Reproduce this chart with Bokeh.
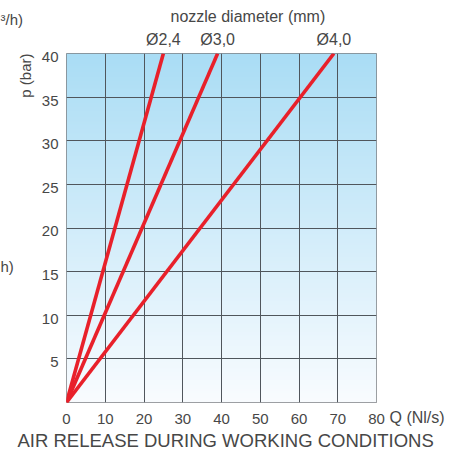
import numpy as np
from bokeh.plotting import figure
from bokeh.models import FixedTicker, LinearAxis, Range1d, Title, ColumnDataSource
from bokeh.embed import file_html
from bokeh.resources import INLINE

# ---- data ----
q_ticks = [0, 10, 20, 30, 40, 50, 60, 70, 80]
p_ticks = [5, 10, 15, 20, 25, 30, 35, 40]
p_grid = [0, 5, 10, 15, 20, 25, 30, 35, 40]
nozzle_labels = ["Ø2,4", "Ø3,0", "Ø4,0"]
q_start = [0, 0, 0]
p_start = [0, 0, 0]
q_end = [25, 39, 69]
p_end = [40, 40, 40]

X_MAX = 80
Y_MAX = 40
LABEL_SHIFT = 0.4   # y tick labels sit slightly below their grid lines

FONT = "Liberation Sans"
TXT = "#474747"
RED = "#e8202a"

p = figure(width=458, height=452, output_backend="svg", toolbar_location=None,
           x_range=Range1d(0, X_MAX), y_range=Range1d(0, Y_MAX),
           min_border_left=66, min_border_right=82, min_border_top=53,
           min_border_bottom=49)
p.background_fill_color = "white"
p.border_fill_color = "white"
p.outline_line_color = "#7d8084"
p.outline_line_width = 1

# background gradient (top light blue -> bottom almost white)
n = 256
top = np.array([170, 221, 245], dtype=float)
bot = np.array([249, 252, 255], dtype=float)
t = np.linspace(0, 1, n)[:, None]
cols = bot * (1 - t) + top * t
rgba = np.zeros((n, 2, 4), dtype=np.uint8)
rgba[:, :, 0:3] = cols[:, None, :].astype(np.uint8)
rgba[:, :, 3] = 255
img = rgba.view(dtype=np.uint32).reshape((n, 2))
r = p.image_rgba(image=[img], x=0, y=0, dw=X_MAX, dh=Y_MAX)
r.level = "image"

# grid
p.xgrid.ticker = FixedTicker(ticks=q_ticks)
p.ygrid.ticker = FixedTicker(ticks=p_grid)
for g in (p.xgrid, p.ygrid):
    g.grid_line_color = "#50565c"
    g.grid_line_width = 1
    g.grid_line_alpha = 1

# lines
p.segment(x0=q_start, y0=p_start, x1=q_end, y1=p_end,
          line_color=RED, line_width=3.6)


def style_axis(ax, standoff, size="15px"):
    ax.axis_line_color = None
    ax.major_tick_line_color = None
    ax.minor_tick_line_color = None
    ax.major_tick_out = 0
    ax.major_tick_in = 0
    ax.major_label_text_font = FONT
    ax.major_label_text_font_size = size
    ax.major_label_text_color = TXT
    ax.major_label_standoff = standoff


p.extra_y_ranges = {"ylab": Range1d(LABEL_SHIFT, Y_MAX + LABEL_SHIFT)}
p.xaxis.ticker = FixedTicker(ticks=q_ticks)
p.yaxis.ticker = FixedTicker(ticks=p_ticks)
p.yaxis[0].y_range_name = "ylab"
style_axis(p.xaxis[0], 11)
style_axis(p.yaxis[0], 8)

# nozzle labels as an axis above
top_axis = LinearAxis(ticker=FixedTicker(ticks=q_end),
                      major_label_overrides=dict(zip(q_end, nozzle_labels)))
style_axis(top_axis, 6, "16px")
p.add_layout(top_axis, "above")

# titles
p.title.text = "nozzle diameter (mm)"
p.title.align = "left"
p.title.offset = 104
p.title.text_font = FONT
p.title.text_font_size = "16px"
p.title.text_font_style = "normal"
p.title.text_color = TXT
p.title.standoff = 6

ylab = Title(text="p (bar)", align="right", offset=0, text_font=FONT,
             text_font_size="15px", text_font_style="normal", text_color=TXT,
             standoff=9)
p.add_layout(ylab, "left")

bottom_title = Title(text="AIR RELEASE DURING WORKING CONDITIONS", align="left",
                     offset=-49, text_font=FONT, text_font_size="18.5px",
                     text_font_style="normal", text_color=TXT, standoff=3)
p.add_layout(bottom_title, "below")

# outside texts anchored at frame corners, shifted in pixels
side_src = ColumnDataSource(dict(
    x=[X_MAX, 0, 0],
    y=[0, Y_MAX, 0],
    text=["Q (Nl/s)", "³/h)", "h)"],
    dx=[13, -66, -66],
    dy=[15, -34, -136],
    size=["16px", "15px", "15px"],
))
tr = p.text(x="x", y="y", text="text", x_offset="dx", y_offset="dy",
            source=side_src, text_align="left", text_baseline="middle",
            text_font={"value": FONT}, text_font_size="size", text_color=TXT)
tr.level = "overlay"

open("out.html", "w").write(file_html(p, INLINE))
